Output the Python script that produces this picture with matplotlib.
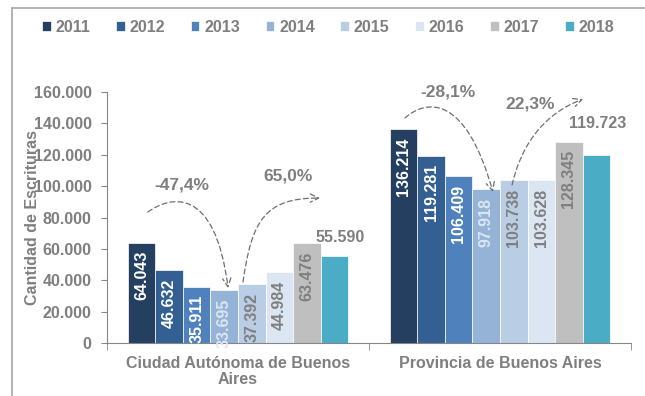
import matplotlib
matplotlib.use("Agg")
import matplotlib.pyplot as plt
from matplotlib.patches import FancyArrowPatch
from matplotlib.path import Path
from matplotlib.lines import Line2D
import numpy as np

plt.rcParams['font.family'] = ['Liberation Sans', 'DejaVu Sans']
plt.rcParams['font.weight'] = 'bold'

# Escrituras por jurisdicción y año
years = ['2011', '2012', '2013', '2014', '2015', '2016', '2017', '2018']
regions = ['Ciudad Autónoma de Buenos\nAires', 'Provincia de Buenos Aires']
caba = [64043, 46632, 35911, 33695, 37392, 44984, 63476, 55590]
pba = [136214, 119281, 106409, 97918, 103738, 103628, 128345, 119723]
yticks = [0, 20000, 40000, 60000, 80000, 100000, 120000, 140000, 160000]

colors = ['#243F60', '#335F93', '#4F81BD', '#95B3D7', '#B9CDE5', '#DCE6F2', '#BFBFBF', '#4BACC6']
label_colors = ['white', 'white', 'white', '#DCE6F2', '#7F7F7F', '#7F7F7F', '#7F7F7F', '#7F7F7F']
gray = '#7F7F7F'


def fmt(v):
    return f"{v:,}".replace(",", ".")


fig = plt.figure(figsize=(6.45, 3.96), dpi=100)
ax = fig.add_axes([107 / 645, 1 - 343 / 396, 524 / 645, 251 / 396])

x = np.arange(len(regions))
w = 0.105
values = np.array([caba, pba])
for i, yr in enumerate(years):
    pos = x + (i - 3.5) * w
    vals = values[:, i]
    ax.bar(pos, vals, w, color=colors[i], edgecolor='white', linewidth=0.5, label=yr)
    for j in range(len(regions)):
        if i < 7:
            ax.annotate(fmt(vals[j]), (pos[j], vals[j]), xytext=(0, -6),
                        textcoords='offset points', rotation=90, ha='center', va='top',
                        fontsize=11.5, color=label_colors[i], fontweight='bold')

# 2018 values above the last bar
top_offsets = [(4, 13), (1, 23)]
for j in range(len(regions)):
    ax.annotate(fmt(values[j, 7]), (x[j] + 3.5 * w, values[j, 7]), xytext=top_offsets[j],
                textcoords='offset points', ha='center', va='center',
                fontsize=11.5, color=gray, fontweight='bold')

# curved variation arrows (cubic bezier, data coords)
arrows = [
    [(-0.344, 83500), (-0.260, 93700), (-0.088, 100700), (-0.038, 35060)],
    [(0.019, 38900), (0.053, 78400), (0.103, 92400), (0.313, 92400)],
    [(0.637, 143400), (0.714, 154900), (0.866, 160000), (0.973, 96300)],
    [(1.046, 100700), (1.076, 123000), (1.153, 145300), (1.317, 155500)],
]
for pts in arrows:
    path = Path(pts, [Path.MOVETO, Path.CURVE4, Path.CURVE4, Path.CURVE4])
    arr = FancyArrowPatch(path=path, arrowstyle='->,head_length=6,head_width=3',
                          linestyle=(0, (4, 2.5)), color='#6F6F6F', linewidth=0.9,
                          clip_on=False)
    ax.add_patch(arr)

changes = [caba[3] / caba[0] - 1, caba[7] / caba[3] - 1,
           pba[3] / pba[0] - 1, pba[7] / pba[3] - 1]
change_pos = [(-0.214, 100700), (0.191, 106500), (0.802, 160000), (1.115, 152400)]
for c, (px, py) in zip(changes, change_pos):
    ax.text(px, py, f"{c * 100:.1f}%".replace(".", ","), ha='center', va='center',
            fontsize=12.5, color=gray, fontweight='bold')

ax.set_xlim(-0.5, 1.5)
ax.set_ylim(0, 160000)
ax.set_yticks(yticks)
ax.set_yticklabels([fmt(v) for v in yticks])
ax.set_xticks(x)
ax.set_xticklabels(regions, linespacing=1.15)
ax.set_xticks([-0.5, 0.5, 1.5], minor=True)
ax.tick_params(axis='x', which='major', length=0, pad=9, labelsize=11.5, labelcolor=gray)
ax.tick_params(axis='x', which='minor', length=5, color='#868686', direction='out')
ax.tick_params(axis='y', length=4, pad=7, labelsize=11.5, labelcolor=gray, color='#868686')
ax.set_ylabel('Cantidad de Escrituras', fontsize=11.5, color=gray, fontweight='bold')
ax.yaxis.set_label_coords(-0.128, 0.5)

for s in ['top', 'right']:
    ax.spines[s].set_visible(False)
for s in ['left', 'bottom']:
    ax.spines[s].set_color('#868686')

leg = fig.legend(loc='center', bbox_to_anchor=(328 / 645, 1 - 27 / 396), ncol=8, frameon=False,
                 handlelength=0.55, handleheight=0.55, handletextpad=0.3, columnspacing=1.6,
                 prop={'size': 11.5, 'weight': 'bold'})
for t in leg.get_texts():
    t.set_color(gray)

# outer frame
fig.add_artist(Line2D([12 / 645, 12 / 645], [0, 1 - 8 / 396], color='#A6A6A6', lw=1.2))
fig.add_artist(Line2D([12 / 645, 1], [1 - 8 / 396, 1 - 8 / 396], color='#A6A6A6', lw=1.2))

fig.savefig('out.png', dpi=100)
